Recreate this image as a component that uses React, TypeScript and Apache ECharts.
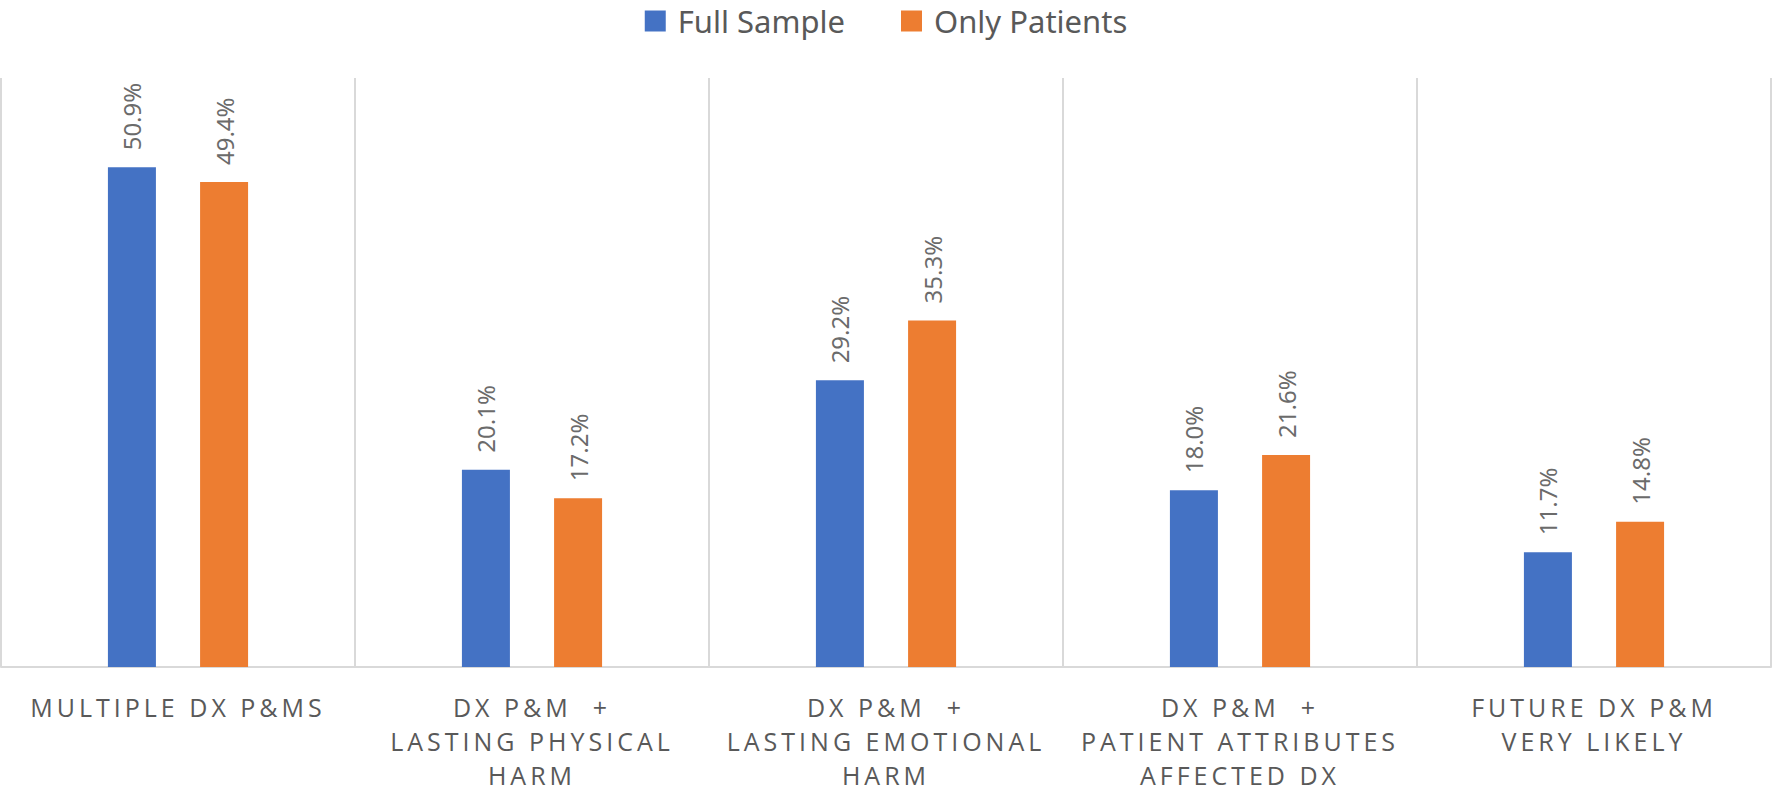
import React, { useEffect, useRef } from "react";
import * as echarts from "echarts";

const categories = [
  "MULTIPLE DX P&MS",
  "DX P&M  +\nLASTING PHYSICAL\nHARM",
  "DX P&M  +\nLASTING EMOTIONAL\nHARM",
  "DX P&M  +\nPATIENT ATTRIBUTES\nAFFECTED DX",
  "FUTURE DX P&M\nVERY LIKELY",
];
const fullSample = [50.9, 20.1, 29.2, 18.0, 11.7];
const onlyPatients = [49.4, 17.2, 35.3, 21.6, 14.8];
const seriesNames = ["Full Sample", "Only Patients"];

export default function App() {
  const ref = useRef<HTMLDivElement>(null);
  useEffect(() => {
    if (!ref.current) return;
    const chart = echarts.init(ref.current, null, { renderer: "svg" });
    const labelCfg = {
      show: true,
      position: "top",
      rotate: 90,
      align: "left",
      verticalAlign: "middle",
      distance: 17,
      color: "#6b6b6b",
      fontSize: 24,
      fontFamily: "Noto Sans",
      formatter: (p: any) => p.value.toFixed(1) + "%",
    };
    chart.setOption({
      animation: false,
      backgroundColor: "#ffffff",
      legend: {
        data: seriesNames,
        top: 0,
        left: "center",
        icon: "rect",
        itemWidth: 21,
        itemHeight: 21,
        itemGap: 56,
        textStyle: {
          fontSize: 31,
          color: "#595959",
          fontFamily: "Noto Sans",
          lineHeight: 32,
          padding: [0, 0, 0, 7],
        },
      },
      grid: { left: 1, right: 1, top: 78, bottom: 114, containLabel: false },
      xAxis: {
        type: "category",
        data: categories,
        boundaryGap: true,
        axisLine: { show: true, lineStyle: { color: "#d9d9d9", width: 2 } },
        axisTick: { show: false },
        splitLine: { show: true, lineStyle: { color: "#d9d9d9", width: 2 } },
        axisLabel: {
          interval: 0,
          margin: 23,
          fontSize: 25,
          lineHeight: 34,
          color: "#595959",
          fontFamily: "'Open Sans'",
          align: "center",
        },
      },
      yAxis: {
        type: "value",
        min: 0,
        max: 60,
        show: false,
        splitLine: { show: false },
      },
      series: [
        {
          name: seriesNames[0],
          type: "bar",
          data: fullSample,
          barWidth: 48,
          barGap: "92%",
          itemStyle: { color: "#4472C4" },
          label: labelCfg,
        },
        {
          name: seriesNames[1],
          type: "bar",
          data: onlyPatients,
          barWidth: 48,
          barGap: "92%",
          itemStyle: { color: "#ED7D31" },
          label: labelCfg,
        },
      ],
    });
    return () => chart.dispose();
  }, []);
  return (
    <>
      <style>{`
        #chartwrap text[style*="Open Sans"], #chartwrap text[font-family*="Open Sans"] { letter-spacing: 4px; }
      `}</style>
      <div
        id="chartwrap"
        ref={ref}
        style={{ position: "fixed", left: 0, top: 0, width: 1772, height: 792, background: "#fff" }}
      />
    </>
  );
}
